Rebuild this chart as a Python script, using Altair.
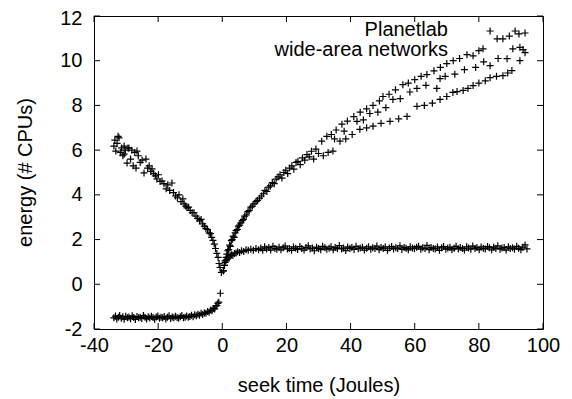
import altair as alt
import pandas as pd

# ---- data (x = seek time, y = energy) ----
planetlab_left = [
    (-33.8, 6.18), (-33.5, 6.45), (-33.2, 5.96), (-32.8, 6.30), (-32.5, 6.62), (-32.2, 6.55),
    (-31.8, 5.90), (-31.4, 6.10), (-31.0, 5.75), (-30.6, 6.18), (-30.6, 5.82), (-30.2, 6.00),
    (-29.7, 5.42), (-29.4, 6.10), (-29.1, 6.09), (-28.6, 5.60), (-28.2, 6.00), (-27.8, 5.30),
    (-27.3, 5.90), (-26.9, 5.20), (-26.6, 5.96), (-26.2, 5.75), (-25.6, 5.45), (-25.0, 5.55),
    (-24.4, 4.98), (-23.8, 5.60), (-23.3, 5.20), (-22.8, 5.30), (-22.3, 5.05), (-21.9, 5.16),
    (-21.4, 4.95), (-20.9, 4.85), (-20.4, 4.71), (-19.9, 4.90), (-19.4, 4.60), (-18.8, 4.62),
    (-18.2, 4.50), (-17.5, 4.27), (-17.0, 4.45), (-16.4, 4.20), (-15.7, 4.53), (-15.2, 4.10),
    (-14.6, 3.95), (-14.0, 3.87), (-13.5, 4.00), (-12.9, 3.70), (-12.3, 3.82), (-11.9, 3.60),
    (-11.4, 3.50), (-11.0, 3.42), (-10.5, 3.45), (-10.0, 3.30), (-9.4, 3.20), (-8.8, 3.20),
    (-8.2, 3.05), (-7.7, 2.95), (-7.1, 2.84), (-6.6, 2.90), (-6.1, 2.70), (-5.6, 2.60),
    (-5.1, 2.49), (-4.6, 2.45), (-4.1, 2.30), (-3.7, 2.27), (-3.3, 2.10), (-2.9, 1.96),
    (-2.5, 1.80), (-2.1, 1.60), (-1.7, 1.38), (-1.3, 1.20), (-1.0, 0.93), (-0.7, 0.75),
    (-0.3, 0.53),
]

planetlab_right = [
    (0.4, 0.60), (0.7, 0.85), (0.9, 1.05), (1.2, 1.20), (1.4, 1.35), (1.7, 1.50), (2.0, 1.55),
    (2.3, 1.75), (2.5, 1.70), (2.8, 1.95), (3.1, 2.00), (3.4, 2.15), (3.7, 2.10), (4.0, 2.30),
    (4.3, 2.40), (4.7, 2.45), (5.0, 2.60), (5.4, 2.65), (5.8, 2.75), (6.2, 2.85), (6.6, 2.90),
    (7.0, 3.05), (7.5, 3.10), (8.0, 3.25), (8.4, 3.30), (8.9, 3.45), (9.4, 3.50), (9.9, 3.60),
    (10.5, 3.70), (11.0, 3.75), (11.6, 3.85), (12.2, 3.95),
    (12.8, 4.05), (13.3, 4.20), (13.9, 4.15), (14.5, 4.35), (15.0, 4.40), (15.6, 4.55),
    (16.2, 4.50), (16.8, 4.70), (17.4, 4.80), (18.0, 4.90), (18.6, 4.75), (19.2, 5.00),
    (19.8, 5.10), (20.4, 4.95), (21.0, 5.20), (21.7, 5.30), (22.3, 5.15), (23.0, 5.45),
    (23.6, 5.50), (24.3, 5.35), (25.0, 5.65), (25.7, 5.55), (26.4, 5.80), (27.1, 5.70),
    (27.8, 5.95), (28.5, 5.60), (29.2, 6.05), (30.0, 5.85),
    # upper strand
    (31.0, 6.40), (32.6, 6.62), (34.0, 6.70), (35.5, 6.90), (37.3, 7.16), (39.0, 7.30),
    (41.0, 7.50), (43.0, 7.70), (45.0, 7.85), (47.0, 8.00), (49.0, 8.20), (50.1, 8.40),
    (52.0, 8.50), (54.0, 8.70), (56.3, 8.93), (58.0, 9.00), (60.0, 9.15), (62.0, 9.30),
    (63.8, 9.38), (66.0, 9.55), (68.0, 9.70), (70.0, 9.87), (72.0, 10.00), (74.0, 10.10),
    (76.3, 10.27), (78.2, 10.22), (80.0, 10.45), (81.3, 10.53), (83.5, 11.33), (85.7, 10.98),
    (87.5, 10.98), (89.5, 11.10), (91.3, 11.33), (92.5, 11.20), (94.4, 11.24),
    # lower strand
    (31.5, 5.75), (33.0, 5.90), (34.5, 5.96), (36.7, 6.40), (38.5, 6.50), (40.5, 6.70),
    (42.9, 6.93), (45.0, 7.00), (47.0, 7.07), (49.5, 7.20), (52.3, 7.29), (55.0, 7.40),
    (57.6, 7.51), (60.7, 7.96), (63.0, 8.00), (65.5, 8.10), (67.9, 8.27), (70.0, 8.40),
    (71.9, 8.58), (73.2, 8.62), (75.1, 8.67), (76.6, 8.76), (78.2, 8.89), (80.0, 9.00),
    (82.0, 9.10), (83.5, 9.24), (85.5, 9.30), (87.5, 9.33), (89.0, 9.45), (90.3, 9.56),
    (92.8, 10.00), (94.4, 10.36),
    # points between the strands
    (35.0, 6.50), (38.0, 6.85), (42.0, 7.29), (44.0, 7.35), (46.0, 7.64), (48.5, 7.70),
    (51.0, 7.90), (53.2, 8.27), (55.5, 8.30), (58.5, 8.60), (60.7, 8.76), (63.5, 8.90),
    (66.9, 8.76), (67.9, 9.20), (69.5, 9.30), (72.5, 9.40), (75.5, 9.60), (79.0, 9.70),
    (81.5, 9.95), (83.5, 9.78), (86.0, 10.10), (88.8, 10.09), (90.6, 10.53), (92.8, 10.60),
    (93.8, 10.50),
]

wan_left = [
    (-33.8, -1.50), (-33.3, -1.42), (-32.9, -1.55), (-32.4, -1.47), (-32.0, -1.40), (-31.5, -1.52),
    (-31.0, -1.45), (-30.6, -1.56), (-30.1, -1.43), (-29.6, -1.50), (-29.1, -1.46), (-28.6, -1.54),
    (-28.1, -1.41), (-27.6, -1.49), (-27.1, -1.57), (-26.6, -1.44), (-26.1, -1.50), (-25.6, -1.47),
    (-25.1, -1.53), (-24.6, -1.40), (-24.1, -1.48), (-23.6, -1.55), (-23.1, -1.45), (-22.6, -1.51),
    (-22.1, -1.43), (-21.6, -1.49), (-21.1, -1.56), (-20.6, -1.46), (-20.1, -1.42), (-19.6, -1.52),
    (-19.1, -1.48), (-18.6, -1.50), (-18.1, -1.44), (-17.6, -1.55), (-17.1, -1.47), (-16.6, -1.41),
    (-16.1, -1.53), (-15.6, -1.46), (-15.1, -1.50), (-14.6, -1.43), (-14.1, -1.49), (-13.6, -1.52),
    (-13.1, -1.45), (-12.6, -1.40), (-12.1, -1.50), (-11.6, -1.47), (-11.1, -1.42), (-10.6, -1.48),
    (-10.1, -1.44), (-9.6, -1.38), (-9.1, -1.45), (-8.6, -1.36), (-8.1, -1.41), (-7.6, -1.34),
    (-7.1, -1.38), (-6.6, -1.30), (-6.1, -1.35), (-5.6, -1.28), (-5.1, -1.30), (-4.6, -1.22),
    (-4.1, -1.25), (-3.6, -1.15), (-3.2, -1.18), (-2.8, -1.08), (-2.4, -1.10), (-2.0, -0.98),
    (-1.7, -0.95), (-1.4, -0.85), (-1.1, -0.80), (-0.6, -0.40),
]

wan_right = [
    (0.3, 0.60), (0.6, 0.85), (0.9, 0.98), (1.2, 1.08), (1.5, 1.12), (1.8, 1.22), (2.1, 1.18),
    (2.5, 1.28), (2.9, 1.32), (3.3, 1.30), (3.8, 1.38), (4.3, 1.40), (4.8, 1.45), (5.4, 1.42),
    (6.0, 1.50), (6.7, 1.47), (7.4, 1.54), (8.1, 1.52), (8.9, 1.57), (9.7, 1.52), (10.5, 1.60),
    (11.3, 1.55), (12.0, 1.62), (12.6, 1.52), (13.2, 1.68), (13.8, 1.58), (14.5, 1.65),
    (15.1, 1.53), (15.8, 1.70), (16.4, 1.60), (17.0, 1.57), (17.7, 1.66), (18.3, 1.54),
    (19.0, 1.63), (19.6, 1.71), (20.3, 1.58), (20.9, 1.60), (21.6, 1.52), (22.2, 1.67),
    (22.9, 1.61), (23.5, 1.56), (24.2, 1.69), (24.8, 1.60), (25.5, 1.53), (26.1, 1.64),
    (26.8, 1.72), (27.4, 1.58), (28.1, 1.62), (28.7, 1.50), (29.4, 1.66), (30.0, 1.60),
    (30.7, 1.55), (31.3, 1.70), (32.0, 1.63), (32.6, 1.57), (33.3, 1.61), (33.9, 1.68),
    (34.6, 1.54), (35.2, 1.65), (35.9, 1.60), (36.5, 1.73), (37.2, 1.58), (37.8, 1.62),
    (38.5, 1.51), (39.1, 1.67), (39.8, 1.60), (40.4, 1.64), (41.1, 1.56), (41.7, 1.70),
    (42.4, 1.59), (43.0, 1.62), (43.7, 1.66), (44.3, 1.53), (45.0, 1.61), (45.6, 1.68),
    (46.3, 1.57), (46.9, 1.63), (47.6, 1.60), (48.2, 1.71), (48.9, 1.55), (49.5, 1.64),
    (50.2, 1.60), (50.8, 1.67), (51.5, 1.52), (52.1, 1.62), (52.8, 1.69), (53.4, 1.58),
    (54.1, 1.63), (54.7, 1.60), (55.4, 1.72), (56.0, 1.56), (56.7, 1.65), (57.3, 1.61),
    (58.0, 1.54), (58.6, 1.68), (59.3, 1.62), (59.9, 1.59), (60.6, 1.66), (61.2, 1.70),
    (61.9, 1.57), (62.5, 1.63), (63.2, 1.60), (63.8, 1.74), (64.5, 1.55), (65.1, 1.65),
    (65.8, 1.60), (66.4, 1.58), (67.1, 1.67), (67.7, 1.52), (68.4, 1.63), (69.0, 1.69),
    (69.7, 1.57), (70.3, 1.62), (71.0, 1.66), (71.6, 1.54), (72.3, 1.61), (72.9, 1.70),
    (73.6, 1.58), (74.2, 1.64), (74.9, 1.60), (75.5, 1.53), (76.2, 1.68), (76.8, 1.62),
    (77.5, 1.57), (78.1, 1.71), (78.8, 1.60), (79.4, 1.64), (80.1, 1.55), (80.7, 1.67),
    (81.4, 1.61), (82.0, 1.58), (82.7, 1.69), (83.3, 1.63), (84.0, 1.54), (84.6, 1.66),
    (85.3, 1.60), (85.9, 1.72), (86.6, 1.57), (87.2, 1.62), (87.9, 1.65), (88.5, 1.53),
    (89.2, 1.68), (89.8, 1.60), (90.5, 1.63), (91.1, 1.57), (91.8, 1.70), (92.4, 1.61),
    (93.1, 1.55), (93.7, 1.66), (94.4, 1.76), (95.0, 1.58),
]

legend_labels = ["Planetlab", "wide-area networks"]
x_ticks = [-40, -20, 0, 20, 40, 60, 80, 100]
y_ticks = [-2, 0, 2, 4, 6, 8, 10, 12]
x_title = "seek time (Joules)"
y_title = "energy (# CPUs)"

# ---- build tables ----
rows = []
for name, pts in [(legend_labels[0], planetlab_left + planetlab_right),
                  (legend_labels[1], wan_left + wan_right)]:
    for x, y in pts:
        rows.append({"series": name, "x": x, "y": y})
df = pd.DataFrame(rows)
xt = pd.DataFrame({"x": x_ticks})
yt = pd.DataFrame({"y": y_ticks})

W, H = 449, 313
FONT = "Liberation Sans"
xs = alt.Scale(domain=[-40, 100], nice=False, zero=False)
ys = alt.Scale(domain=[-2, 12], nice=False, zero=False)

common = dict(ticks=False, tickSize=0, domain=False, grid=False,
              labelFlush=False, labelOverlap=False, labelBound=False,
              labelExpr="'' + datum.value",
              labelFontSize=20, labelFont=FONT, labelColor="black",
              titleFont=FONT, titleFontSize=20, titleFontWeight="normal",
              titleColor="black", titleBaseline="middle")
x_axis = alt.Axis(values=x_ticks, labelPadding=6, title=x_title, titleY=56, **common)
y_axis = alt.Axis(values=y_ticks, labelPadding=12, title=y_title, titleAngle=270,
                  titleX=-69, titleY=156,
                  labelOffset=alt.condition("datum.value == 12", alt.value(2), alt.value(0)),
                  **common)

X = alt.X("x:Q", scale=xs, axis=x_axis)
Y = alt.Y("y:Q", scale=ys, axis=y_axis)

plus = "M-1,0L1,0M0,-1L0,1"
points = alt.Chart(df).mark_point(
    shape=plus, size=49, filled=False, stroke="black", strokeWidth=1.2, opacity=1
).encode(x=X, y=Y)

tick_style = dict(color="black", strokeWidth=1)
ticks = [
    alt.Chart(yt).mark_rule(**tick_style).encode(y=Y, x=alt.value(0), x2=alt.value(6)),
    alt.Chart(yt).mark_rule(**tick_style).encode(y=Y, x=alt.value(W - 6), x2=alt.value(W)),
    alt.Chart(xt).mark_rule(**tick_style).encode(x=X, y=alt.value(H - 6), y2=alt.value(H)),
    alt.Chart(xt).mark_rule(**tick_style).encode(x=X, y=alt.value(0), y2=alt.value(6)),
]

leg1 = alt.Chart(df.head(1)).mark_text(
    text=legend_labels[0], align="right", baseline="alphabetic",
    font=FONT, fontSize=20, color="black"
).encode(x=alt.value(354), y=alt.value(20))
leg2 = alt.Chart(df.head(1)).mark_text(
    text=legend_labels[1], align="right", baseline="alphabetic",
    font=FONT, fontSize=20, color="black"
).encode(x=alt.value(354), y=alt.value(40))

chart = alt.layer(points, *ticks, leg1, leg2).properties(
    width=W, height=H,
    padding={"left": 86, "top": 8, "right": 20, "bottom": 68},
    autosize="none",
    background="white",
).configure_view(stroke="black", strokeWidth=1)

chart.save("out.html", embed_options={"renderer": "svg", "actions": False})
